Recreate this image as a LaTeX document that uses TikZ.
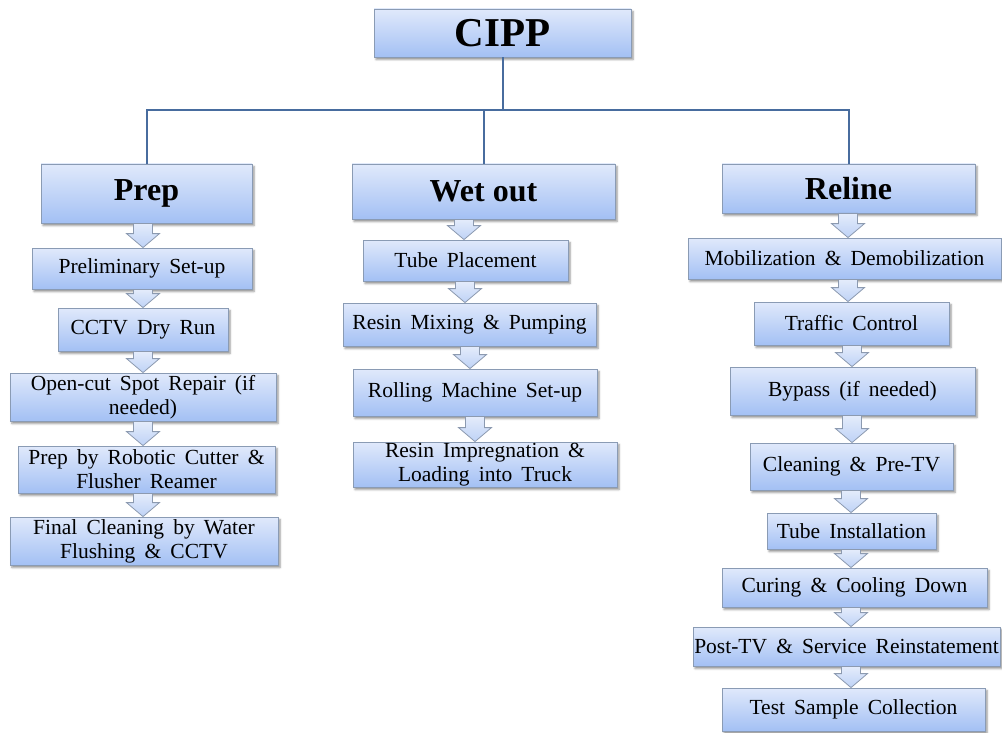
\documentclass[tikz,border=0pt]{standalone}
\usepackage{fontspec}
\setmainfont{Liberation Serif}
\newfontfamily\stepfont[WordSpace=1.7]{Liberation Serif}
\usetikzlibrary{calc,shadows.blur}

\definecolor{boxtop}{RGB}{224,233,251}
\definecolor{boxbot}{RGB}{163,192,244}
\definecolor{boxline}{RGB}{138,155,180}
\definecolor{arrtop}{RGB}{228,236,251}
\definecolor{arrbot}{RGB}{190,210,246}
\definecolor{arrline}{RGB}{140,154,176}
\definecolor{treeline}{RGB}{72,108,158}

\tikzset{
  flowbox/.style={draw=boxline, line width=0.8pt, top color=boxtop, bottom color=boxbot,
    blur shadow={shadow xshift=2pt, shadow yshift=-2.5pt, shadow blur radius=2pt, shadow opacity=45},
    inner sep=0pt, align=center, text=black},
  stepbox/.style={flowbox, font=\stepfont\fontsize{21.5}{24}\selectfont},
  headbox/.style={flowbox, font=\fontsize{32}{36}\selectfont\bfseries},
  rootbox/.style={flowbox, font=\fontsize{41}{44}\selectfont\bfseries},
  blockarrow/.style={draw=arrline, line width=0.8pt, top color=arrtop, bottom color=arrbot, line join=miter},
  tree/.style={draw=treeline, line width=2pt},
}

% hollow block arrow from the bottom of #1 to the top of #2, centred at x=#3
\newcommand\flowarrow[3]{%
  \path[blockarrow] let \p1=(#1.south), \p2=(#2.north) in
    ({#3pt-9.5pt},\y1) -- ({#3pt+9.5pt},\y1) -- ({#3pt+9.5pt},\y2+14pt)
    -- ({#3pt+16.5pt},\y2+14pt) -- (#3pt,\y2) -- ({#3pt-16.5pt},\y2+14pt)
    -- ({#3pt-9.5pt},\y2+14pt) -- cycle;}

\begin{document}
\begin{tikzpicture}[x=1pt,y=-1pt]
\useasboundingbox (0,0) rectangle (1002,733);

% top of the tree
\node[rootbox, minimum width=257pt, minimum height=48pt] (cipp) at (502.5,33) {CIPP};

% column headers
\node[headbox, minimum width=211pt, minimum height=59pt] (prep) at (146.5,193.5) {Prep};
\node[headbox, minimum width=263pt, minimum height=55pt] (wet) at (483.5,191.5) {Wet out};
\node[headbox, minimum width=253pt, minimum height=49pt] (reline) at (848.5,188.5) {Reline};

% tree connectors
\coordinate (bus) at (502.5,110);
\draw[tree] (cipp.south) -- (bus);
\draw[tree] (prep.north) |- (bus) -| (reline.north);
\draw[tree] (wet.north) -- (wet.north |- bus);

% Prep steps
\node[stepbox, minimum width=220pt, minimum height=41pt] (p1) at (142,268.5) {Preliminary Set-up};
\node[stepbox, minimum width=170pt, minimum height=43pt] (p2) at (143,329.5) {CCTV Dry Run};
\node[stepbox, minimum width=266pt, minimum height=48pt] (p3) at (143,397) {Open-cut Spot Repair (if\\needed)};
\node[stepbox, minimum width=257pt, minimum height=47pt] (p4) at (146.5,469.5) {Prep by Robotic Cutter \&\\Flusher Reamer};
\node[stepbox, minimum width=268pt, minimum height=48pt] (p5) at (144,541) {Final Cleaning by Water\\Flushing \& CCTV};

% Wet out steps
\node[stepbox, minimum width=205pt, minimum height=41pt] (w1) at (465.5,260.5) {Tube Placement};
\node[stepbox, minimum width=253pt, minimum height=43pt] (w2) at (469.5,324.5) {Resin Mixing \& Pumping};
\node[stepbox, minimum width=244pt, minimum height=47pt] (w3) at (475,392.5) {Rolling Machine Set-up};
\node[stepbox, minimum width=264pt, minimum height=45pt] (w4) at (485,464.5) {Resin Impregnation \&\\Loading into Truck};

% Reline steps
\node[stepbox, minimum width=313pt, minimum height=41pt] (r1) at (844.5,258.5) {Mobilization \& Demobilization};
\node[stepbox, minimum width=195pt, minimum height=43pt] (r2) at (851.5,323.5) {Traffic Control};
\node[stepbox, minimum width=245pt, minimum height=48pt] (r3) at (852.5,391) {Bypass (if needed)};
\node[stepbox, minimum width=203pt, minimum height=47pt] (r4) at (851.5,466.5) {Cleaning \& Pre-TV};
\node[stepbox, minimum width=169pt, minimum height=36pt] (r5) at (851.5,531) {Tube Installation};
\node[stepbox, minimum width=265pt, minimum height=39pt] (r6) at (854.5,587.5) {Curing \& Cooling Down};
\node[stepbox, minimum width=307pt, minimum height=39pt] (r7) at (846.5,646.5) {Post-TV \& Service Reinstatement};
\node[stepbox, minimum width=263pt, minimum height=43pt] (r8) at (853.5,709.5) {Test Sample Collection};

% block arrows
\flowarrow{prep}{p1}{143}
\flowarrow{p1}{p2}{143}
\flowarrow{p2}{p3}{143}
\flowarrow{p3}{p4}{143}
\flowarrow{p4}{p5}{143}

\flowarrow{wet}{w1}{464}
\flowarrow{w1}{w2}{465}
\flowarrow{w2}{w3}{470}
\flowarrow{w3}{w4}{475}

\flowarrow{reline}{r1}{848}
\flowarrow{r1}{r2}{848}
\flowarrow{r2}{r3}{852}
\flowarrow{r3}{r4}{852}
\flowarrow{r4}{r5}{851}
\flowarrow{r5}{r6}{851}
\flowarrow{r6}{r7}{851}
\flowarrow{r7}{r8}{851}
\end{tikzpicture}
\end{document}
